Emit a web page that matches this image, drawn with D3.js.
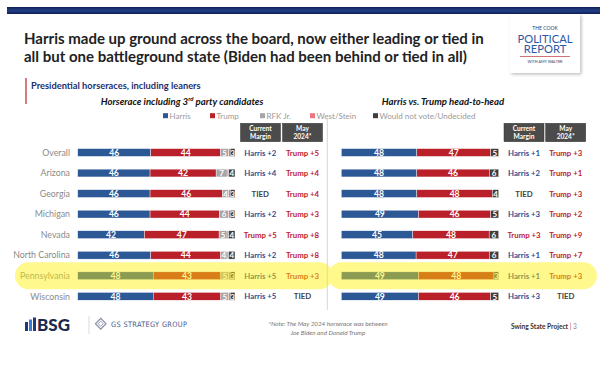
<!DOCTYPE html>
<html><head><meta charset="utf-8">
<script src="https://cdn.jsdelivr.net/npm/d3@7"></script>
<style>body{margin:0;background:#fff} svg{display:block;font-family:Lato,"Open Sans",sans-serif}</style>
</head><body>
<svg id="c" width="600" height="382"></svg>
<script>
// ---------- data ----------
const states = ["Overall","Arizona","Georgia","Michigan","Nevada","North Carolina","Pennsylvania","Wisconsin"];
const seriesNames = ["Harris","Trump","RFK Jr.","West/Stein","Would not vote/Undecided"];
const seriesColors = ["#2c5896","#b9202a","#a6a6a6","#ee7582","#3e3e3e"];
const leftHarris    = [46,46,46,46,42,46,48,48];
const leftTrump     = [44,42,46,44,47,44,43,43];
const leftRFK       = [5,7,4,6,5,4,5,5];
const leftWest      = [1,1,1,1,1,1,1,1];
const leftUndecided = [3,4,3,3,4,4,3,3];
const rightHarris    = [48,48,48,49,45,48,49,49];
const rightTrump     = [47,46,48,46,48,47,48,46];
const rightUndecided = [5,6,4,5,6,6,3,5];
const leftCurrentMargin  = ["Harris +2","Harris +4","TIED","Harris +2","Trump +5","Harris +2","Harris +5","Harris +5"];
const leftMayMargin      = ["Trump +5","Trump +4","Trump +4","Trump +3","Trump +8","Trump +8","Trump +3","TIED"];
const rightCurrentMargin = ["Harris +1","Harris +2","TIED","Harris +3","Trump +3","Harris +1","Harris +1","Harris +3"];
const rightMayMargin     = ["Trump +3","Trump +1","Trump +3","Trump +2","Trump +9","Trump +7","Trump +3","TIED"];
const highlightState = "Pennsylvania";

// ---------- drawing ----------
const svg = d3.select("#c");
const F = "Lato, 'Open Sans', sans-serif";

// top bar
svg.append("rect").attr("x",7).attr("y",7).attr("width",593).attr("height",7).attr("fill","#1e3a7c");
svg.append("rect").attr("x",7).attr("y",7).attr("width",593).attr("height",1.5).attr("fill","#12225a");
svg.append("rect").attr("x",7).attr("y",12.5).attr("width",593).attr("height",1.5).attr("fill","#12225a");

// logo box
const defs = svg.append("defs");
const fl = defs.append("filter").attr("id","sh").attr("x","-20%").attr("y","-20%").attr("width","150%").attr("height","150%");
fl.append("feDropShadow").attr("dx",1.5).attr("dy",1.5).attr("stdDeviation",1.5).attr("flood-color","#000").attr("flood-opacity",0.25);
svg.append("rect").attr("x",510).attr("y",14).attr("width",70).attr("height",59).attr("fill","#fff").attr("filter","url(#sh)");
const lg = svg.append("g").attr("text-anchor","middle").attr("font-family",F);
lg.append("text").attr("x",545).attr("y",30).attr("font-size",5).attr("fill","#2c3e6e").text("THE COOK");
const lt = lg.append("text").attr("font-size",11.2).attr("fill","#2f56a6");
lt.append("tspan").attr("x",545).attr("y",43).text("POLITICAL");
lt.append("tspan").attr("x",545).attr("y",53).text("REPORT");
lg.append("line").attr("x1",520).attr("x2",570).attr("y1",56.5).attr("y2",56.5).attr("stroke","#c94b55").attr("stroke-width",0.8);
lg.append("text").attr("x",545).attr("y",63).attr("font-size",3.8).attr("fill","#2c3e6e").text("WITH AMY WALTER");

// title
const tt = svg.append("text").attr("font-family",F).attr("font-weight",700).attr("font-size",15).attr("fill","#222");
tt.append("tspan").attr("x",24).attr("y",44).text("Harris made up ground across the board, now either leading or tied in");
tt.append("tspan").attr("x",24).attr("y",62).text("all but one battleground state (Biden had been behind or tied in all)");

// subtitle
svg.append("rect").attr("x",25).attr("y",78).attr("width",2).attr("height",26).attr("fill","#d27b80");
svg.append("text").attr("x",31).attr("y",89).attr("font-family",F).attr("font-weight",700).attr("font-size",9.3).attr("fill","#1d2f6f").text("Presidential horseraces, including leaners");

// panel titles
const pt1 = svg.append("text").attr("x",182).attr("y",104.5).attr("text-anchor","middle").attr("font-family",F).attr("font-weight",700).attr("font-style","italic").attr("font-size",9.6).attr("fill","#111");
pt1.append("tspan").text("Horserace including 3");
pt1.append("tspan").attr("font-size",6).attr("dy",-3.5).text("rd");
pt1.append("tspan").attr("dy",3.5).text(" party candidates");
svg.append("text").attr("x",443).attr("y",104.5).attr("text-anchor","middle").attr("font-family",F).attr("font-weight",700).attr("font-style","italic").attr("font-size",9.6).attr("fill","#111").text("Harris vs. Trump head-to-head");

// legend
const legX = [163,210,260,310,373];
const legend = svg.append("g").selectAll("g").data(seriesNames).join("g")
  .attr("transform",(d,i)=>`translate(${legX[i]},115.7)`);
legend.append("rect").attr("x",0).attr("y",-2.5).attr("width",5).attr("height",5).attr("fill",(d,i)=>seriesColors[i]);
legend.append("text").attr("x",6.5).attr("y",3).attr("font-family",F).attr("font-size",8).attr("fill","#9a9a9a").text(d=>d);

// header boxes
function header(x, l1, l2){
  svg.append("rect").attr("x",x).attr("y",123.3).attr("width",40).attr("height",18.4).attr("fill","#4b4b4b").attr("stroke","#333").attr("stroke-width",0.5);
  const t = svg.append("text").attr("text-anchor","middle").attr("font-family",F).attr("font-weight",700).attr("font-size",6.6).attr("fill","#fff");
  t.append("tspan").attr("x",x+20).attr("y",131).text(l1);
  t.append("tspan").attr("x",x+20).attr("y",139).text(l2);
}
header(240.5,"Current","Margin");
header(282.5,"May","2024*");
header(504,"Current","Margin");
header(545.7,"May","2024*");

// divider
svg.append("line").attr("x1",327.3).attr("x2",327.3).attr("y1",118).attr("y2",310).attr("stroke","#ccc").attr("stroke-width",0.8);

// scales
const y = d3.scalePoint().domain(states).range([152.5,296.3]);
const barH = 7.8;

const leftRows = states.map((s,i)=>({state:s, vals:[leftHarris[i],leftTrump[i],leftRFK[i],leftWest[i],leftUndecided[i]], ci:[0,1,2,3,4]}));
const rightRows = states.map((s,i)=>({state:s, vals:[rightHarris[i],rightTrump[i],rightUndecided[i]], ci:[0,1,4]}));

function drawBars(rows, x0, x1){
  rows.forEach(r=>{
    const total = d3.sum(r.vals);
    const x = d3.scaleLinear().domain([0,total]).range([x0,x1]);
    let acc = 0;
    const g = svg.append("g");
    r.vals.forEach((v,k)=>{
      const a = acc; acc += v;
      const ci = r.ci[k];
      g.append("rect").attr("x",x(a)).attr("y",y(r.state)-barH/2).attr("width",x(acc)-x(a)).attr("height",barH)
        .attr("fill",seriesColors[ci]).attr("stroke","#fff").attr("stroke-width",0.4);
      if (ci!==3) {
        g.append("text").attr("x",(x(a)+x(acc))/2).attr("y",y(r.state)+3.2).attr("text-anchor","middle")
          .attr("font-family",F).attr("font-weight",700).attr("font-size",ci>=2?8:8.6).attr("fill","#fff").text(v);
      }
    });
  });
}
drawBars(leftRows, 77.7, 235);
drawBars(rightRows, 341.3, 498.7);

// state labels
svg.append("g").selectAll("text").data(states).join("text")
  .attr("x",70).attr("y",d=>y(d)+3.2).attr("text-anchor","end").attr("font-family",F).attr("font-size",8.8).attr("fill","#8a8a8a").text(d=>d);

// margins
function mcol(vals, cx){
  svg.append("g").selectAll("text").data(vals).join("text")
    .attr("x",cx).attr("y",(d,i)=>y(states[i])+3).attr("text-anchor","middle").attr("font-family",F).attr("font-weight",700).attr("font-size",7.8)
    .attr("fill",d=>d.startsWith("Harris")?"#2c4f93":d.startsWith("Trump")?"#c0232b":"#444").text(d=>d);
}
mcol(leftCurrentMargin,260.3);
mcol(leftMayMargin,302.5);
mcol(rightCurrentMargin,524);
mcol(rightMayMargin,565.7);

// highlight
const hy = y(highlightState);
const hg = svg.append("g").attr("opacity",0.45);
hg.append("rect").attr("x",15).attr("y",hy-13.5).attr("width",318).attr("height",27).attr("rx",13.5).attr("fill","#fff000");
hg.append("rect").attr("x",328).attr("y",hy-13.5).attr("width",269).attr("height",27).attr("rx",13.5).attr("fill","#fff000");

// footer
const bsg = svg.append("g");
bsg.append("rect").attr("x",25).attr("y",322).attr("width",3).attr("height",9).attr("fill","#1f3a7c");
bsg.append("rect").attr("x",29).attr("y",319.5).attr("width",3).attr("height",11.5).attr("fill","#3a7bd5");
bsg.append("rect").attr("x",33).attr("y",317.5).attr("width",3).attr("height",13.5).attr("fill","#1f3a7c");
bsg.append("text").attr("x",37).attr("y",331).attr("font-family",F).attr("font-weight",900).attr("font-size",17).attr("fill","#1b2a4e").text("BSG");
svg.append("line").attr("x1",89).attr("x2",89).attr("y1",316).attr("y2",334).attr("stroke","#ccc").attr("stroke-width",0.7);
svg.append("rect").attr("x",97).attr("y",320).attr("width",7.5).attr("height",7.5).attr("transform","rotate(45 100.75 323.75)").attr("fill","none").attr("stroke","#8a8fa8").attr("stroke-width",1.2);
svg.append("rect").attr("x",98.9).attr("y",321.9).attr("width",3.7).attr("height",3.7).attr("transform","rotate(45 100.75 323.75)").attr("fill","none").attr("stroke","#8a8fa8").attr("stroke-width",0.8);
svg.append("text").attr("x",111).attr("y",326.7).attr("font-family","'Liberation Sans Narrow','DejaVu Sans Condensed',sans-serif").attr("font-size",7.4).attr("fill","#4a5a8e").attr("letter-spacing",0.3).text("GS STRATEGY GROUP");

const nt = svg.append("text").attr("text-anchor","middle").attr("font-family",F).attr("font-style","italic").attr("font-size",6.3).attr("fill","#777");
nt.append("tspan").attr("x",328).attr("y",325.5).text("*Note: The May 2024 horserace was between");
nt.append("tspan").attr("x",328).attr("y",335).text("Joe Biden and Donald Trump");

const sp = svg.append("text").attr("x",511).attr("y",329).attr("font-family",F).attr("font-size",6.6).attr("fill","#333");
sp.append("tspan").attr("font-weight",700).text("Swing State Project ");
sp.append("tspan").attr("fill","#d04050").text("| ");
sp.append("tspan").attr("fill","#888").text("3");
</script>
</body></html>
